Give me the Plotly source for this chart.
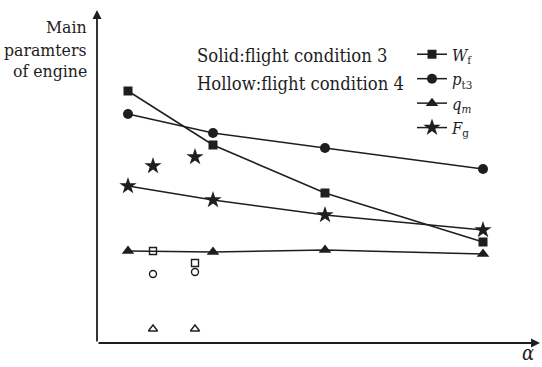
import plotly.graph_objects as go

# alpha positions (arbitrary units, axis has no ticks)
alpha_c3 = [31, 116, 228, 386]
alpha_c4 = [56, 98]

# flight condition 3 (solid)
Wf_c3 = [252, 198, 150, 101]
pt3_c3 = [229, 210, 195, 174]
qm_c3 = [92, 91, 93, 89]
Fg_c3 = [157, 143, 128, 113]

# flight condition 4 (hollow)
Wf_c4 = [92, 80]
pt3_c4 = [69, 71]
qm_c4 = [14, 14]
Fg_c4 = [177, 186]

names = ["<i>W</i><sub>f</sub>", "<i>p</i><sub>t3</sub>", "<i>q</i><sub><i>m</i></sub>", "<i>F</i><sub>g</sub>"]
symbols = ["square", "circle", "triangle-up", "star"]
sizes = [9, 10, 11, 13]

INK = "#1e1e1e"
FONT = "DejaVu Serif Condensed, DejaVu Serif"

fig = go.Figure()
for ys, nm, sym, sz in zip([Wf_c3, pt3_c3, qm_c3, Fg_c3], names, symbols, sizes):
    fig.add_trace(go.Scatter(
        x=alpha_c3, y=ys, mode="lines+markers", name=nm,
        line=dict(color=INK, width=1.5),
        marker=dict(symbol=sym, size=sz, color=INK),
    ))

hollow_sym = ["square-open", "circle-open", "triangle-up-open", "star"]
hollow_sz = [7, 7, 8, 13]
hollow_lw = [1.4, 1.4, 1.4, 0]
for ys, sym, sz, lw in zip([Wf_c4, pt3_c4, qm_c4, Fg_c4], hollow_sym, hollow_sz, hollow_lw):
    fig.add_trace(go.Scatter(
        x=alpha_c4, y=ys, mode="markers", showlegend=False,
        marker=dict(symbol=sym, size=sz, color=INK, line=dict(width=lw, color=INK)),
    ))

# axis arrows
fig.add_annotation(x=443, y=0, ax=0, ay=0, xref="x", yref="y", axref="x", ayref="y",
                   text="", showarrow=True, arrowhead=2, arrowsize=1, arrowwidth=1.8,
                   arrowcolor=INK, standoff=0, startstandoff=0)
fig.add_annotation(x=0, y=333, ax=0, ay=0, xref="x", yref="y", axref="x", ayref="y",
                   text="", showarrow=True, arrowhead=2, arrowsize=1, arrowwidth=1.8,
                   arrowcolor=INK, standoff=0, startstandoff=0)

for txt, yv in [("Main", 316), ("paramters", 293), ("of engine", 272)]:
    fig.add_annotation(x=0, y=yv, xref="x", yref="y", xshift=-8, text=txt,
                       showarrow=False, xanchor="right", yanchor="middle",
                       font=dict(family=FONT, size=17.5, color=INK))

fig.add_annotation(x=98, y=288, xref="x", yref="y", text="Solid:flight condition 3",
                   showarrow=False, xanchor="left", yanchor="middle",
                   font=dict(family=FONT, size=18.3, color=INK))
fig.add_annotation(x=98, y=260, xref="x", yref="y", text="Hollow:flight condition 4",
                   showarrow=False, xanchor="left", yanchor="middle",
                   font=dict(family=FONT, size=18.3, color=INK))
fig.add_annotation(x=431, y=-0.072, xref="x", yref="paper", text="<i>α</i>",
                   showarrow=False, xanchor="center", yanchor="bottom",
                   font=dict(family=FONT, size=20, color=INK))

fig.update_xaxes(range=[0, 443], visible=False)
fig.update_yaxes(range=[0, 333], visible=False)
fig.update_layout(
    width=542, height=367,
    margin=dict(l=97, r=2, t=10, b=24),
    paper_bgcolor="white", plot_bgcolor="white",
    font=dict(family=FONT, size=16, color=INK),
    showlegend=True,
    legend=dict(x=(412 - 97) / 443, y=(343 - 37) / 333, xanchor="left", yanchor="top",
                bgcolor="rgba(0,0,0,0)", font=dict(family=FONT, size=16.5, color=INK),
                itemwidth=30, tracegroupgap=0),
)
fig.write_html("out.html")
